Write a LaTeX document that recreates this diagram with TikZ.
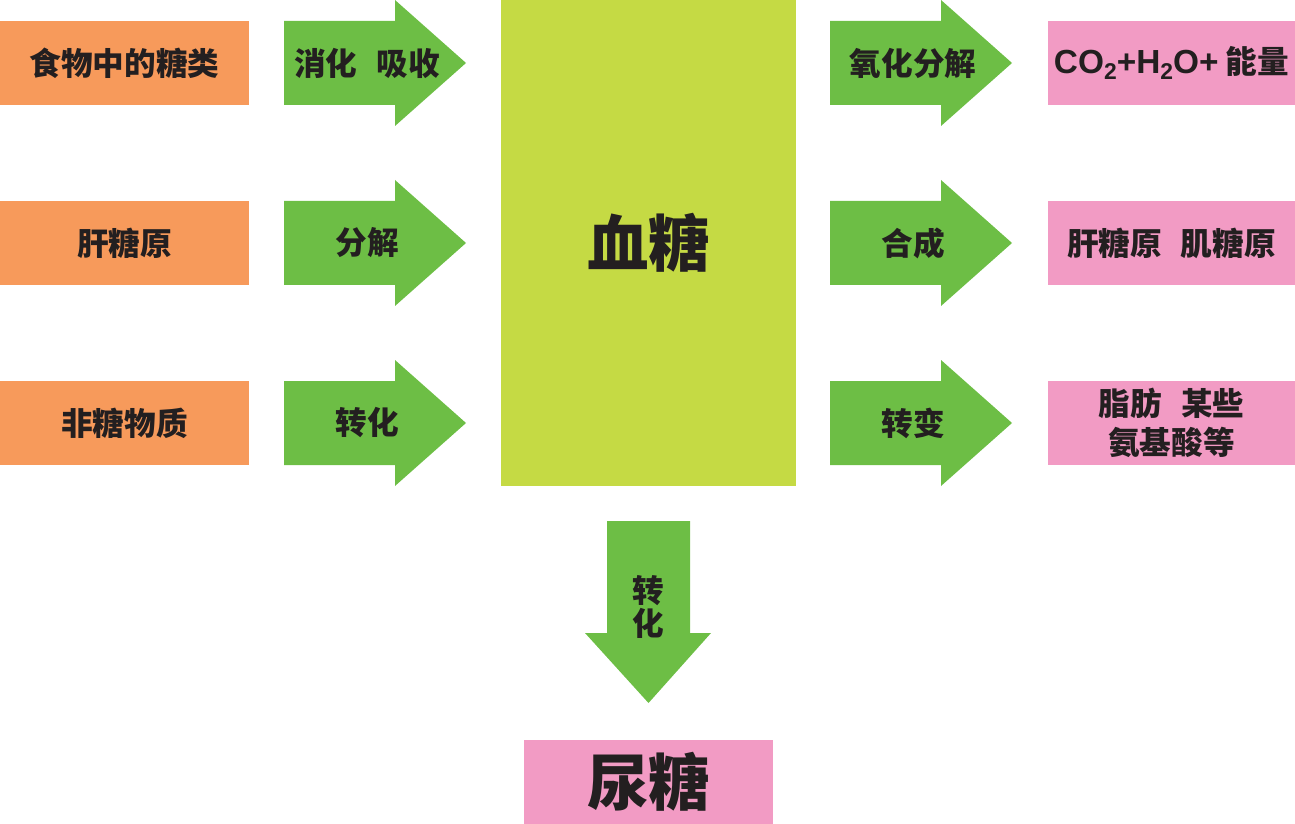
\documentclass[tikz,border=0pt]{standalone}
\usepackage{fontspec}
\setmainfont{Noto Sans CJK SC}
\newfontfamily\latinsans{Liberation Sans}
\usetikzlibrary{positioning,calc}
\definecolor{SrcOrange}{HTML}{F79A5B}
\definecolor{FlowGreen}{HTML}{6DBE45}
\definecolor{BloodLime}{HTML}{C5DA44}
\definecolor{DstPink}{HTML}{F29BC4}
\definecolor{InkDark}{HTML}{231F20}

\begin{document}
\begin{tikzpicture}[
  x=0.02cm, y=-0.02cm,
  font=\fontsize{18}{20}\selectfont\bfseries,
  every node/.style={text=InkDark},
  srcbox/.style={fill=SrcOrange,minimum width=4.98cm,minimum height=1.68cm,inner sep=0pt},
  dstbox/.style={fill=DstPink,minimum width=4.94cm,minimum height=1.68cm,inner sep=0pt,align=center},
  bigtext/.style={font=\fontsize{35}{38}\selectfont\bfseries},
  flowarrow/.style={fill=FlowGreen}
]
\useasboundingbox (0,0) rectangle (1295,824);

% centre box
\node[fill=BloodLime,minimum width=5.9cm,minimum height=9.72cm,inner sep=0pt,bigtext]
  (blood) at (648.5,243) {血糖};

% sources on the left
\node[srcbox] (food)  at (124.5,63)  {食物中的糖类};
\node[srcbox] (liver) at (124.5,243) {肝糖原};
\node[srcbox] (other) at (124.5,423) {非糖物质};

% products on the right
\node[dstbox] (energy) at (1171.5,63)
  {{\latinsans\fontsize{19}{20}\selectfont\bfseries CO\raisebox{-0.3ex}{\fontsize{13}{13}\selectfont 2}+H\raisebox{-0.3ex}{\fontsize{13}{13}\selectfont 2}O+} 能量};
\node[dstbox] (store)  at (1171.5,243) {肝糖原\hspace{0.6em}肌糖原};
\node[dstbox,font=\fontsize{18}{22}\selectfont\bfseries] (fat) at (1171.5,423) {脂肪\hspace{0.6em}某些\\氨基酸等};

% urine
\node[dstbox,minimum width=4.98cm,bigtext] (urine) at (648.5,782) {尿糖};

% block arrows, left and right
\foreach \xo/\yc/\lab/\nm in {284/63/消化\hspace{0.6em}吸收/digest, 284/243/分解/split, 284/423/转化/convin,
                              830/63/氧化分解/oxid, 830/243/合成/synth, 830/423/转变/change} {
  \fill[flowarrow] (\xo,\yc-42) -- ++(111,0) -- ++(0,-21) -- ++(71,63)
    -- ++(-71,63) -- ++(0,-21) -- ++(-111,0) -- cycle;
  \node (\nm) at (\xo+83,\yc) {\lab};
}

% block arrow down
\fill[flowarrow] (607,521) -- (690,521) -- (690,633) -- (711,633)
  -- (648.5,703) -- (585,633) -- (607,633) -- cycle;
\node[align=center,font=\fontsize{18}{19}\selectfont\bfseries] (convdown) at (648.5,607) {转\\化};

\end{tikzpicture}
\end{document}
